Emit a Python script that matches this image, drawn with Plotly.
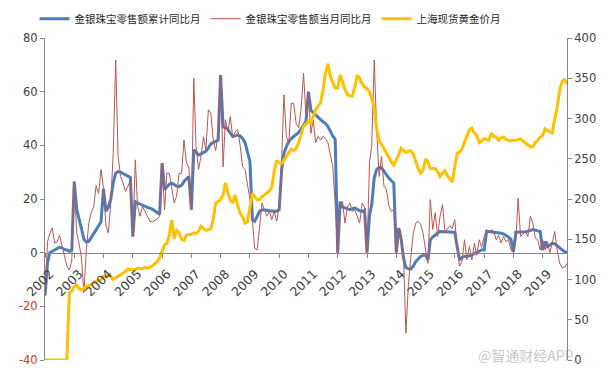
import pandas as pd
import plotly.graph_objects as go

# ---- data ----
years = list(range(2002, 2020))
tick_labels = [str(y) for y in years]

cum_yoy = {  # 金银珠宝零售额累计同比 (%)
    2002: [-16, -4, 0, 0.5, 1, 1.5, 2, 1.8, 1.2, 1, 0.5, 1],
    2003: [26.5, 16, 13, 9, 5, 4, 4.2, 5.5, 7, 8.5, 10, 11.5],
    2004: [23.8, 15.4, 17, 20, 26, 29.6, 30.2, 30, 29.5, 29, 28.5, 28],
    2005: [6, 19, 18.5, 18, 17.8, 17.3, 16.9, 16.6, 16.2, 15.6, 15, 14.3],
    2006: [33.4, 23.4, 24.5, 25.5, 25.9, 25.3, 24.8, 24.6, 25.2, 26.5, 27.3, 28.4],
    2007: [16, 38.3, 37.5, 36.4, 36.8, 37.3, 37.8, 39, 40.5, 41, 41.4, 42],
    2008: [66.2, 47, 46.5, 46, 44.5, 43.3, 43.5, 43.9, 43.5, 42.6, 41, 38],
    2009: [34, 12.3, 11.7, 13.5, 15.4, 16, 16, 15.8, 15.6, 15.4, 15.4, 15.4],
    2010: [16, 31, 37, 39.5, 41.4, 42.5, 43.3, 44, 44.8, 46, 47.5, 49],
    2011: [60, 53, 52.3, 51.3, 50.5, 49.6, 48.8, 48.2, 47, 45.2, 43.5, 42.2],
    2012: [0, 19, 17, 16.7, 16.3, 16, 16.3, 16.7, 16.2, 15.6, 15.4, 15.8],
    2013: [0, 14, 18, 28, 31, 31.8, 31.6, 30.5, 29, 27.8, 26.8, 25.9],
    2014: [0, 9.2, 5.5, -2, -5.5, -6, -6.1, -5, -3.3, -2.2, -1.4, -1],
    2015: [-0.9, -2.7, 4.8, 5.8, 6.7, 7.3, 7.9, 7.9, 7.9, 7.8, 7.7, 7.6],
    2016: [7.6, 2, -2.7, -1.8, -1.4, -1.3, -1.2, -0.8, -0.3, 0, 0.5, 1],
    2017: [1, 7.9, 7.9, 7.8, 7.6, 7.4, 7.3, 7.2, 7, 6.5, 5.8, 5],
    2018: [0.4, 7.6, 7.6, 7.6, 7.7, 7.8, 8, 8.3, 8.6, 8.4, 8, 7.9],
    2019: [1, 4.2, 2.2, 2.8, 3.5, 3.3, 2.5, 2, 1.2, 0.4, 0],
}

mon_yoy = {  # 金银珠宝零售额当月同比 (%)
    2002: [-16, 4, 7, 9.2, 3.6, 4, 6.5, 2.4, -1.5, -5, -6.5, -3],
    2003: [26.5, 7.3, 3.6, -2, -15, 1, 11, 15, 17.2, 25, 22, 31],
    2004: [24, 10, 7.4, 18.5, 37, 71.8, 36, 28.4, 26, 22.8, 24.7, 27.2],
    2005: [6, 34.6, 17.3, 13.6, 17.3, 15.4, 14, 11.7, 11.5, 12, 12.5, 13.5],
    2006: [33.4, 16, 29.6, 29.6, 24.7, 18.5, 21, 29.6, 29.6, 42, 33.4, 32],
    2007: [16, 65, 39.5, 31, 35.8, 43.2, 38.3, 53.2, 52, 42, 38, 44.4],
    2008: [66.2, 32, 49.5, 45, 50.7, 43, 45, 46, 40, 32, 31, 26],
    2009: [19.8, 12, 1.6, 1, 11, 18.5, 16, 13.6, 15.4, 12.3, 15.4, 11.7],
    2010: [17.3, 34.6, 58.8, 43.2, 41, 55.7, 55.7, 48.1, 46.5, 53.5, 66.9, 51],
    2011: [59, 44.5, 49.5, 41, 43.3, 42, 43.3, 42.5, 41, 35.8, 32, 18],
    2012: [0, 16, 19, 11, 17, 18.5, 15.4, 16, 13.6, 11, 18.5, 17],
    2013: [0, 33.5, 40, 71.8, 45.8, 28.4, 35.8, 24.7, 23.4, 17.3, 15.4, 16],
    2014: [0, 8.6, 6, -1, -30, -12, -1.9, 7.3, 11, 11.7, 10.5, 7.3],
    2015: [1, -4, 19.8, 8.6, 14.9, 6, 13.6, 17.9, 7.3, 9, 10, 9],
    2016: [12.3, 1, -5, -3, 4.8, -2.7, 2.3, -2.7, 3.5, -1, 4.8, 2],
    2017: [6, 8.6, 7.5, 8.6, 8, 4.8, 6.5, 3.6, 6, 4, 5, 1],
    2018: [0, 5, 20.3, 6, 7, 7.9, 6, 13.6, 11, 5.5, 4.8, 1],
    2019: [4.8, 1, 4.2, 0, 3.6, 7.9, 1, -3.8, -5.7, -5.5, -4],
}

gold_price = {  # 上海现货黄金价 (元/克)
    2002: [0, 0, 0, 0, 0, 0, 0, 0, 0, 0, 83, 86],
    2003: [91, 93, 89, 87, 89, 92, 92, 94, 97, 98, 99, 100],
    2004: [104, 104, 105, 104, 100, 102, 104, 105, 107, 110, 113, 112],
    2005: [112, 112, 114, 114, 113, 115, 114, 115, 117, 119, 122, 127],
    2006: [134, 143, 145, 155, 174, 151, 161, 158, 150, 149, 155, 156],
    2007: [156, 158, 157, 160, 166, 163, 161, 162, 163, 175, 195, 197],
    2008: [199, 205, 220, 208, 198, 196, 205, 192, 182, 178, 170, 172],
    2009: [190, 207, 203, 199, 199, 203, 205, 207, 210, 215, 235, 248],
    2010: [245, 244, 248, 252, 257, 262, 260, 263, 270, 280, 290, 293],
    2011: [297, 294, 302, 311, 315, 319, 335, 356, 368, 352, 345, 338],
    2012: [338, 354, 346, 336, 330, 328, 328, 338, 354, 350, 343, 339],
    2013: [337, 333, 325, 312, 288, 272, 268, 262, 258, 252, 246, 242],
    2014: [248, 255, 263, 260, 258, 259, 260, 256, 247, 238, 232, 236],
    2015: [250, 246, 238, 238, 238, 234, 228, 232, 235, 229, 225, 221],
    2016: [240, 257, 258, 263, 270, 278, 286, 288, 282, 279, 270, 272],
    2017: [275, 274, 273, 282, 278, 277, 273, 276, 277, 274, 273, 272],
    2018: [273, 273, 274, 275, 272, 270, 268, 265, 265, 270, 273, 277],
    2019: [279, 287, 285, 283, 282, 300, 313, 335, 346, 348, 343],
}

left_ticks = [-40, -20, 0, 20, 40, 60, 80]
right_ticks = [0, 50, 100, 150, 200, 250, 300, 350, 400]

names = ["金银珠宝零售额累计同比月", "金银珠宝零售额当月同比月", "上海现货黄金价月"]

# ---- build ----
def flat(d):
    out = []
    for y in years:
        out.extend(d[y])
    return out

blue = flat(cum_yoy)
red = flat(mon_yoy)
gold = flat(gold_price)
dates = pd.date_range("2002-01-01", periods=len(blue), freq="MS")

AXC = "#868686"
TXT = "#404040"
FONT = "DejaVu Sans"

fig = go.Figure()
fig.add_trace(go.Scatter(x=dates, y=blue, name=names[0], mode="lines",
                         line=dict(color="#4A7EBB", width=3)))
fig.add_trace(go.Scatter(x=dates, y=red, name=names[1], mode="lines",
                         line=dict(color="#BE5553", width=1)))
fig.add_trace(go.Scatter(x=dates, y=gold, name=names[2], mode="lines",
                         line=dict(color="#FFC000", width=3), yaxis="y2"))

ticktext_left = [
    (f'<span style="color:#E0302A">{v}</span>' if v < 0 else str(v))
    for v in left_ticks
]

fig.update_layout(
    width=606, height=377,
    margin=dict(l=45, r=39, t=38, b=17, autoexpand=False),
    paper_bgcolor="white", plot_bgcolor="white",
    showlegend=True,
    legend=dict(orientation="h", x=-0.02, y=1.06, xanchor="left", yanchor="middle",
                font=dict(family="Noto Sans CJK SC", size=10.5, color="#262626"),
                bgcolor="rgba(0,0,0,0)", tracegroupgap=0),
    xaxis=dict(type="date", range=[dates[0], dates[-1]],
               anchor="free", position=1/3,
               tickvals=[pd.Timestamp(f"{y}-01-01") for y in years],
               ticktext=tick_labels, tickangle=-45,
               tickfont=dict(family=FONT, size=12.5, color=TXT),
               ticklabelstandoff=4, ticklabelshift=5,
               showline=True, linecolor=AXC, linewidth=1,
               ticks="outside", ticklen=4, tickcolor=AXC,
               showgrid=False, zeroline=False),
    yaxis=dict(range=[-40, 80], tickvals=left_ticks, ticktext=ticktext_left,
               tickfont=dict(family=FONT, size=11.5, color=TXT),
               showline=True, linecolor=AXC, linewidth=1,
               ticks="outside", ticklen=4, tickcolor=AXC,
               showgrid=False, zeroline=False),
    yaxis2=dict(range=[0, 400], tickvals=right_ticks, overlaying="y", side="right",
                tickfont=dict(family=FONT, size=11.5, color=TXT),
                showline=True, linecolor=AXC, linewidth=1,
                ticks="outside", ticklen=4, tickcolor=AXC,
                showgrid=False, zeroline=False),
    annotations=[dict(text="@智通财经APP", xref="paper", yref="paper",
                      x=1.018, y=0.015, xanchor="right", yanchor="middle",
                      showarrow=False,
                      font=dict(family="Noto Sans CJK SC", size=14,
                                color="rgba(150,150,150,0.55)"))],
)

fig.write_html("out.html", config={"displayModeBar": False},
               post_script="document.body.style.margin='0px';document.body.style.padding='0px';")
